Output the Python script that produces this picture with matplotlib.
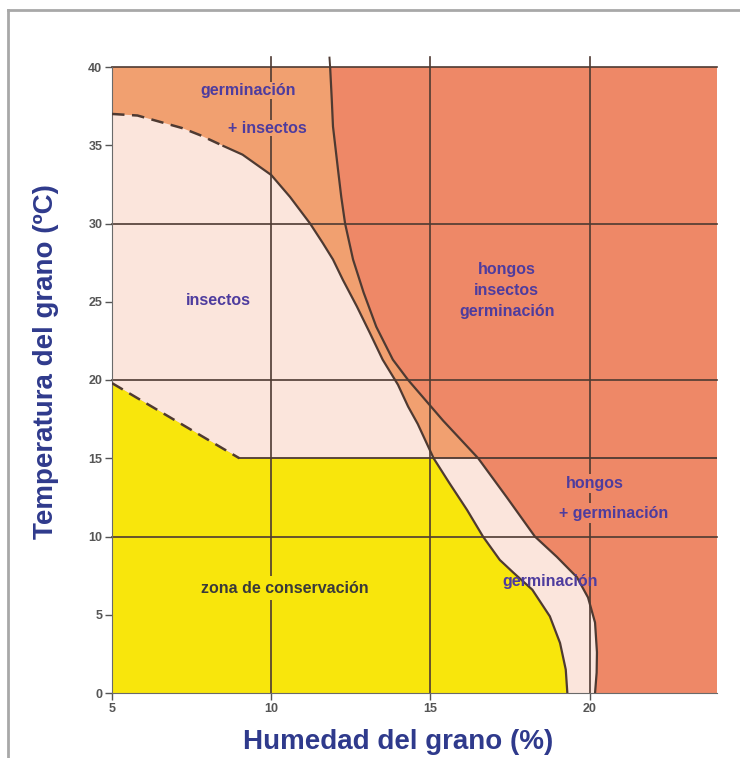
import matplotlib
matplotlib.use("Agg")
import matplotlib.pyplot as plt
from matplotlib import font_manager
from matplotlib.lines import Line2D

# Borde superior de la zona "insectos" (y luego de la zona de conservacion)
insect_x = [5.0, 5.8, 6.5, 7.2, 7.76, 8.5, 9.1, 10.0, 10.59, 11.22, 11.62, 11.94, 12.25, 12.69,
            13.1, 13.5, 13.98, 14.3, 14.6, 15.1, 15.6, 16.15, 16.65, 17.18, 17.6, 18.2,
            18.75, 19.07, 19.25, 19.3]
insect_y = [37.0, 36.9, 36.5, 36.1, 35.65, 34.95, 34.4, 33.1, 31.7, 30.0, 28.75, 27.7, 26.4, 24.7,
            23.0, 21.3, 19.7, 18.3, 17.2, 15.0, 13.4, 11.7, 10.0, 8.5, 7.7, 6.6,
            4.9, 3.2, 1.5, 0.0]
dashed_upto = 8.5

# Borde de la zona "hongos"
fungi_x = [11.85, 11.9, 11.94, 12.02, 12.1, 12.2, 12.32, 12.57, 12.9, 13.3, 13.82, 14.3,
           14.85, 15.4, 15.95, 16.5, 17.4, 18.28, 18.97, 19.6, 19.95, 20.17, 20.23, 20.22, 20.17]
fungi_y = [40.0, 38.0, 36.2, 34.8, 33.4, 31.7, 30.0, 27.7, 25.6, 23.4, 21.3, 20.0,
           18.7, 17.4, 16.2, 15.0, 12.5, 10.0, 8.7, 7.4, 6.1, 4.5, 2.6, 1.3, 0.0]

# Limite de la zona de conservacion
cons_dash_x = [5.0, 9.0]
cons_dash_y = [19.8, 15.0]
cons_level = 15.0

x_ticks = [5, 10, 15, 20]
y_ticks = [0, 5, 10, 15, 20, 25, 30, 35, 40]
grid_x = [10, 15, 20]
grid_y = [10, 20, 30, 40]
x_min, x_max, y_min, y_max = 5, 24, 0, 40

c_fungi = "#EE8867"
c_orange = "#F1A070"
c_pink = "#FBE5DC"
c_yellow = "#F8E60C"
c_line = "#4E3A32"
c_text = "#4E3C9E"
c_axis = "#2F3A8C"

names = {f.name for f in font_manager.fontManager.ttflist}
narrow = "Liberation Sans Narrow" in names
lab_font = ["Liberation Sans Narrow", "Liberation Sans", "DejaVu Sans"] if narrow else ["Liberation Sans", "DejaVu Sans"]
lab_size = 23.5 if narrow else 20

fig = plt.figure(figsize=(7.4, 7.58), dpi=100)
ax = fig.add_axes([112 / 740, 65 / 758, 605 / 740, 626 / 758])
ax.set_xlim(x_min, x_max)
ax.set_ylim(y_min, y_max)
ax.set_facecolor(c_fungi)

# marco gris de la figura
fig.add_artist(Line2D([8 / 740, 1.0], [1 - 10 / 758, 1 - 10 / 758], color="#a8a8a8", lw=2))
fig.add_artist(Line2D([8 / 740, 8 / 740], [0.0, 1 - 10 / 758], color="#a8a8a8", lw=2))

fungi_pts = list(zip(fungi_x, fungi_y))
insect_pts = list(zip(insect_x, insect_y))

# zonas
orange_poly = [(x_min, y_max)] + fungi_pts + [(x_min, y_min)]
ax.fill(*zip(*orange_poly), color=c_orange, lw=0, zorder=1)
low_band = [(x_min, cons_level)] + [p for p in fungi_pts if p[1] <= cons_level] + [(x_min, y_min)]
ax.fill(*zip(*low_band), color=c_pink, lw=0, zorder=1)
insect_poly = [p for p in insect_pts if p[1] >= cons_level] + [(cons_dash_x[1], cons_dash_y[1]),
                                                                (cons_dash_x[0], cons_dash_y[0])]
ax.fill(*zip(*insect_poly), color=c_pink, lw=0, zorder=1)
cons_poly = list(zip(cons_dash_x, cons_dash_y)) + [p for p in insect_pts if p[1] <= cons_level] + [(x_min, y_min)]
ax.fill(*zip(*cons_poly), color=c_yellow, lw=0, zorder=1)

# rejilla
for gy in grid_y:
    ax.plot([x_min, x_max], [gy, gy], color=c_line, lw=1.2, zorder=2, clip_on=False)
for gx in grid_x:
    ax.plot([gx, gx], [y_min, y_max + 0.65], color=c_line, lw=1.2, zorder=2, clip_on=False)
ax.plot([cons_dash_x[1], x_max], [cons_level, cons_level], color=c_line, lw=1.3, zorder=3)

# curvas
k = insect_x.index(dashed_upto)
ax.plot(insect_x[:k + 1], insect_y[:k + 1], color=c_line, lw=1.8, ls=(0, (5, 3)), zorder=3)
ax.plot(insect_x[k:], insect_y[k:], color=c_line, lw=1.6, zorder=3, solid_joinstyle="round")
ax.plot(fungi_x, fungi_y, color=c_line, lw=1.6, zorder=3, solid_joinstyle="round")
ax.plot([fungi_x[0], fungi_x[0] - 0.02], [y_max, y_max + 0.6], color=c_line, lw=1.4,
        zorder=3, clip_on=False)
ax.plot(cons_dash_x, cons_dash_y, color=c_line, lw=1.8, ls=(0, (5, 3)), zorder=3)

# textos de zonas
tf = dict(family=["Liberation Sans", "DejaVu Sans"], fontweight="bold", fontsize=11.5,
          color=c_text, ha="center", va="center", zorder=5)
ax.text(9.27, 38.5, "germinación", bbox=dict(fc=c_orange, ec="none", pad=0.5), **tf)
ax.text(9.87, 36.1, "+ insectos", bbox=dict(fc=c_orange, ec="none", pad=0.5), **tf)
ax.text(8.33, 25.1, "insectos", **tf)
ax.text(17.4, 25.7, "hongos\ninsectos\ngerminación", linespacing=1.5, **tf)
ax.text(20.17, 13.4, "hongos", bbox=dict(fc=c_fungi, ec="none", pad=1.5), **tf)
ax.text(20.75, 11.5, "+ germinación", bbox=dict(fc=c_fungi, ec="none", pad=1.5), **tf)
ax.text(18.75, 7.1, "germinación", **tf)
tz = dict(tf)
tz["color"] = "#3a3a3a"
ax.text(10.43, 6.7, "zona de conservación", bbox=dict(fc=c_yellow, ec="none", pad=3), **tz)

# ejes
for s in ["top", "right"]:
    ax.spines[s].set_visible(False)
for s in ["left", "bottom"]:
    ax.spines[s].set_color("#6a6a6a")
    ax.spines[s].set_linewidth(0.8)
ax.set_xticks(x_ticks)
ax.set_yticks(y_ticks)
ax.tick_params(direction="out", length=5, width=1, color="#555555", labelsize=9,
               labelcolor="#555555", pad=2)
for lbl in ax.get_xticklabels() + ax.get_yticklabels():
    lbl.set_fontweight("bold")
    lbl.set_family(["Liberation Sans Narrow", "Liberation Sans", "DejaVu Sans"])

fig.text(398 / 740, 1 - 742 / 758, "Humedad del grano (%)", family=lab_font, fontsize=lab_size,
         fontweight="bold", color=c_axis, ha="center", va="center")
fig.text(46 / 740, 1 - 362 / 758, "Temperatura del grano (ºC)", family=lab_font, fontsize=lab_size,
         fontweight="bold", color=c_axis, ha="center", va="center", rotation=90)

fig.savefig("out.png", dpi=100, facecolor="white")
